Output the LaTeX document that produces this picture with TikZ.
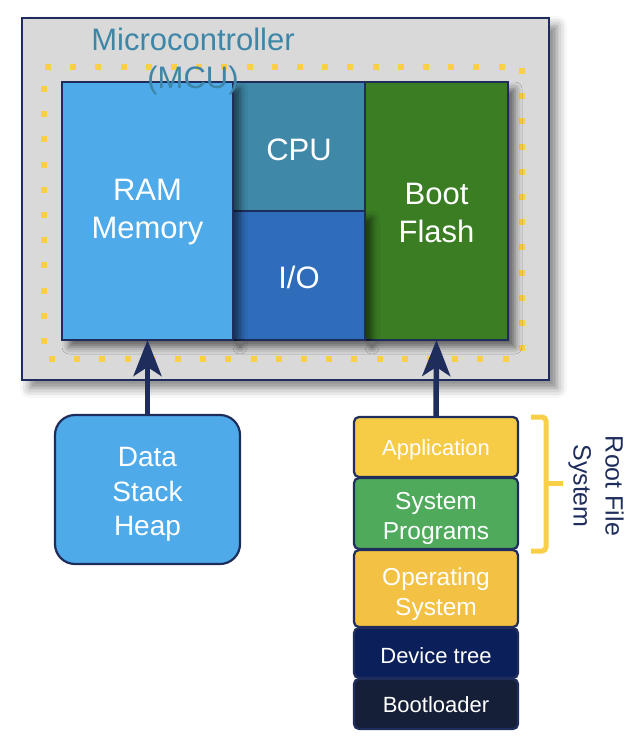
\documentclass[tikz,border=0pt]{standalone}
\usepackage{fontspec}
\setmainfont{Liberation Sans}
\usetikzlibrary{arrows.meta,shadows.blur}
\definecolor{mcugray}{HTML}{D9D9D9}
\definecolor{navy}{HTML}{1F2D5C}
\definecolor{titlec}{HTML}{3E86A8}
\definecolor{ramc}{HTML}{4EAAE9}
\definecolor{cpuc}{HTML}{3F88A7}
\definecolor{ioc}{HTML}{2F6CBA}
\definecolor{flashc}{HTML}{3A7D23}
\definecolor{dotc}{HTML}{F8CF45}
\definecolor{appc}{HTML}{F6CB46}
\definecolor{sysc}{HTML}{4FAA5B}
\definecolor{osc}{HTML}{F3C144}
\definecolor{dtc}{HTML}{0B1F5B}
\definecolor{blc}{HTML}{161F38}
\tikzset{
  box/.style={draw=navy, line width=2.2pt, inner sep=0pt, outer sep=0pt},
  lbl/.style={text=white, align=center, inner sep=0pt},
  shad/.style={blur shadow={shadow xshift=7pt, shadow yshift=-7pt, shadow blur radius=7pt, shadow opacity=55}},
  bigshad/.style={blur shadow={shadow xshift=8pt, shadow yshift=-8pt, shadow blur radius=10pt, shadow opacity=50}},
  bigtxt/.style={font=\fontsize{31}{38}\selectfont},
  midtxt/.style={font=\fontsize{28}{34.5}\selectfont},
  smalltxt/.style={font=\fontsize{22}{27}\selectfont},
  stacktxt/.style={font=\fontsize{24.5}{30}\selectfont},
  layer/.style={box, rounded corners=5pt, minimum width=164pt},
  arr/.style={draw=navy, line width=5.5pt, -{Stealth[length=36pt,width=28pt,inset=9pt]}},
  dot/.style={fill=dotc, minimum size=6pt, inner sep=0pt, outer sep=0pt},
}
\begin{document}
\begin{tikzpicture}[x=1pt,y=-1pt]
\useasboundingbox (0,0) rectangle (632,756);
% outer MCU
\node[box, fill=mcugray, bigshad, minimum width=527pt, minimum height=362pt] (mcu) at (285.5,199) {};
% dotted yellow frame
\foreach \k in {0,...,18} {
  \node[dot] (dt\k) at (48+25.2*\k,67) {};
  \node[dot] (db\k) at (52+25.2*\k,359) {};
}
\foreach \k in {0,...,11} {\node[dot] (dr\k) at (522,71+25.2*\k) {};}
\foreach \k in {0,...,10} {\node[dot] (dl\k) at (44,89+25.2*\k) {};}
% inner blocks
\node[box, fill=cpuc, shad, minimum width=132pt, minimum height=129pt] (cpu) at (299,146.5) {};
\node[box, fill=flashc, shad, minimum width=143pt, minimum height=258pt] (flash) at (436.5,211) {};
\node[box, fill=ioc, shad, minimum width=132pt, minimum height=129pt] (io) at (299,275.5) {};
\node[box, fill=ramc, shad, minimum width=171pt, minimum height=258pt] (ram) at (147.5,211) {};
\node[lbl, bigtxt] (cputxt) at ([yshift=-3pt]cpu.center) {CPU};
\node[lbl, bigtxt] (iotxt) at ([yshift=-2pt]io.center) {I/O};
\node[lbl, bigtxt] (flashtxt) at ([yshift=-2pt]flash.center) {Boot\\Flash};
\node[lbl, bigtxt] (ramtxt) at ([yshift=-1pt]ram.center) {RAM\\Memory};
% title
\node[text=titlec, align=center, bigtxt] (title) at (193,61) {Microcontroller\\(MCU)};
% data box
\node[box, fill=ramc, rounded corners=20pt, minimum width=185pt, minimum height=149pt] (data) at (147.5,489.5) {};
\node[lbl, midtxt] (datatxt) at ([yshift=-5pt]data.center) {Data\\Stack\\Heap};
% stack
\node[layer, fill=appc, minimum height=60pt] (app) at (436,447) {};
\node[layer, fill=sysc, minimum height=71pt] (sys) at (436,513.5) {};
\node[layer, fill=osc, minimum height=77pt] (os) at (436,588.5) {};
\node[layer, fill=dtc, minimum height=50pt] (dtree) at (436,653) {};
\node[layer, fill=blc, minimum height=50pt] (bl) at (436,704) {};
\node[lbl, smalltxt] (apptxt) at ([yshift=-3pt]app.center) {Application};
\node[lbl, stacktxt] (systxt) at ([yshift=-5pt]sys.center) {System\\Programs};
\node[lbl, stacktxt] (ostxt) at ([yshift=-6pt]os.center) {Operating\\System};
\node[lbl, smalltxt] (dttxt) at ([yshift=-3pt]dtree.center) {Device tree};
\node[lbl, smalltxt] (bltxt) at ([yshift=-1pt]bl.center) {Bootloader};
% arrows
\draw[arr] (data.north) -- (ram.south);
\draw[arr] (app.north) -- (flash.south);
% brace
\draw[dotc, line width=5pt, rounded corners=4pt] (531,417) -- (546,417) -- (546,551) -- (531,551);
\draw[dotc, line width=5pt] (546,483) -- (563,483);
\node[rotate=-90, text=navy, align=center, font=\fontsize{25}{32}\selectfont] (rfs) at (596,486) {Root File\\System};
\end{tikzpicture}
\end{document}
